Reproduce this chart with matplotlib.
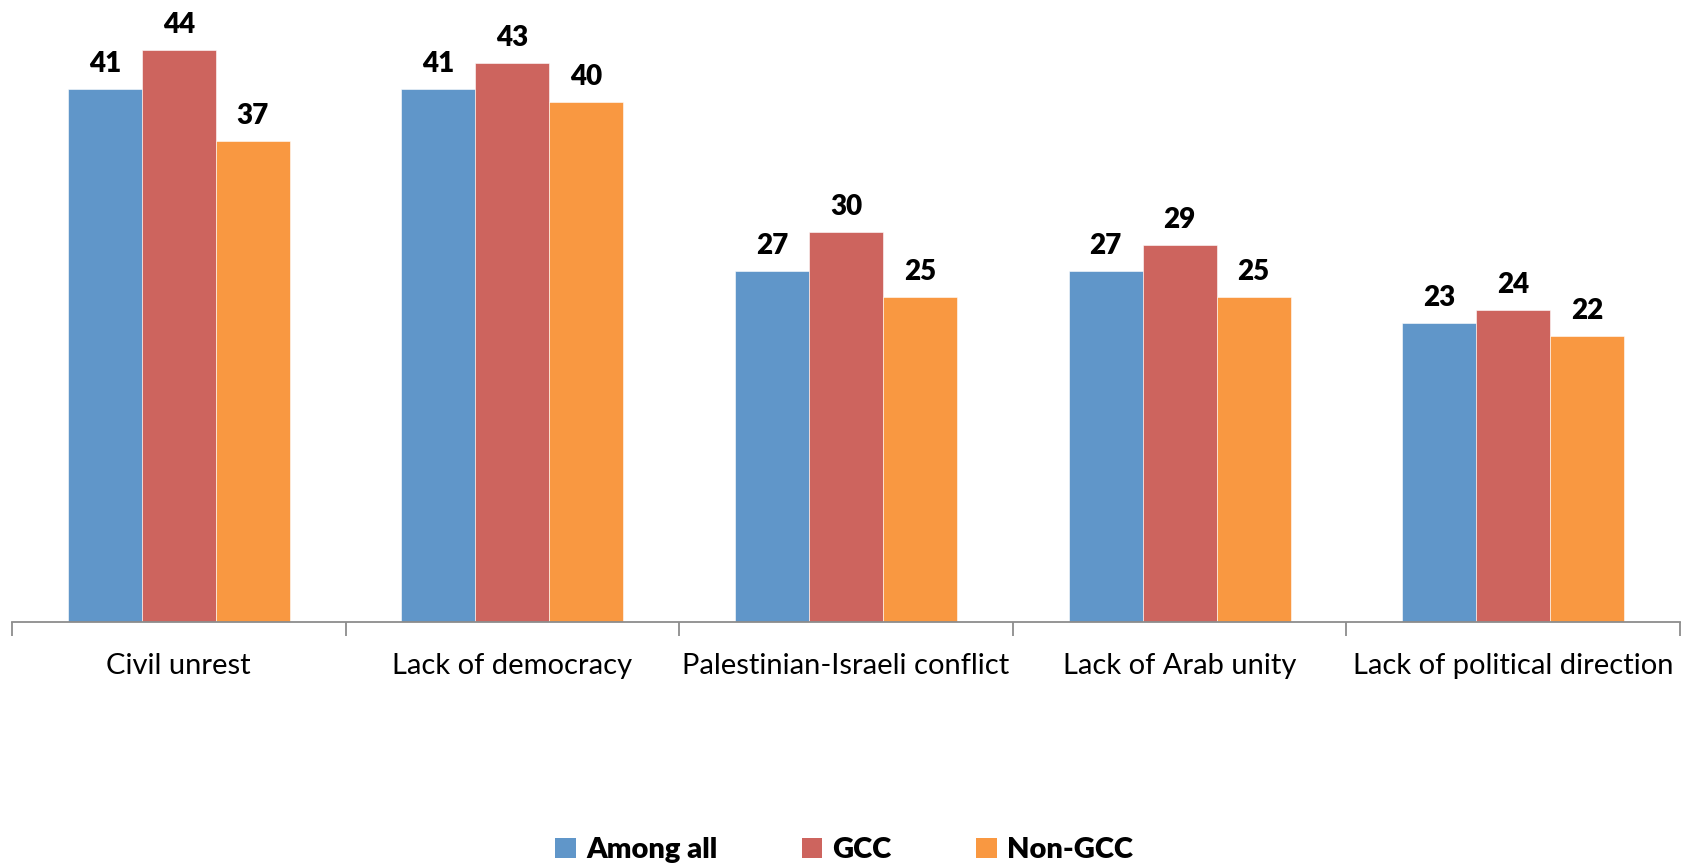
import numpy as np
import matplotlib.pyplot as plt
from matplotlib.patches import Patch

categories = ['Civil unrest', 'Lack of democracy', 'Palestinian-Israeli conflict',
              'Lack of Arab unity', 'Lack of political direction']
series_names = ['Among all', 'GCC', 'Non-GCC']
among_all = [41, 41, 27, 27, 23]
gcc = [44, 43, 30, 29, 24]
non_gcc = [37, 40, 25, 25, 22]
colors = ['#6096C9', '#CD645E', '#F99841']

plt.rcParams['font.family'] = ['Lato', 'DejaVu Sans']

fig = plt.figure(figsize=(16.88, 8.66), dpi=100)
ax = fig.add_axes([12 / 1688, 244 / 866, 1668 / 1688, 622 / 866])

x = np.arange(len(categories))
width = 0.222
for i, (vals, col) in enumerate(zip([among_all, gcc, non_gcc], colors)):
    pos = x + (i - 1) * width
    ax.bar(pos, vals, width=width, color=col, edgecolor='white', linewidth=0.4)
    for p, v in zip(pos, vals):
        ax.annotate(str(v), (p, v), xytext=(0, 9), textcoords='offset points',
                    ha='center', va='bottom', fontsize=20, fontweight='heavy')

ax.set_xlim(-0.5, len(categories) - 0.5)
ax.set_ylim(0, 47.85)
ax.set_yticks([])
for s in ['top', 'right', 'left']:
    ax.spines[s].set_visible(False)
ax.spines['bottom'].set_color('#8c8c8c')
ax.spines['bottom'].set_linewidth(1.3)

ax.set_xticks(x)
ax.set_xticklabels(categories, fontsize=21)
ax.tick_params(axis='x', which='major', length=0, pad=22)
ax.set_xticks(np.arange(-0.5, len(categories)), minor=True)
ax.tick_params(axis='x', which='minor', length=10, width=1.3, color='#8c8c8c', direction='out')

handles = [Patch(facecolor=c, label=n) for c, n in zip(colors, series_names)]
fig.legend(handles=handles, loc='center', bbox_to_anchor=(0.5, 0.018), ncol=3,
           frameon=False, prop={'weight': 'heavy', 'size': 21},
           handlelength=0.7, handleheight=0.7, handletextpad=0.35, columnspacing=2.9)

fig.savefig('out.png', dpi=100)
